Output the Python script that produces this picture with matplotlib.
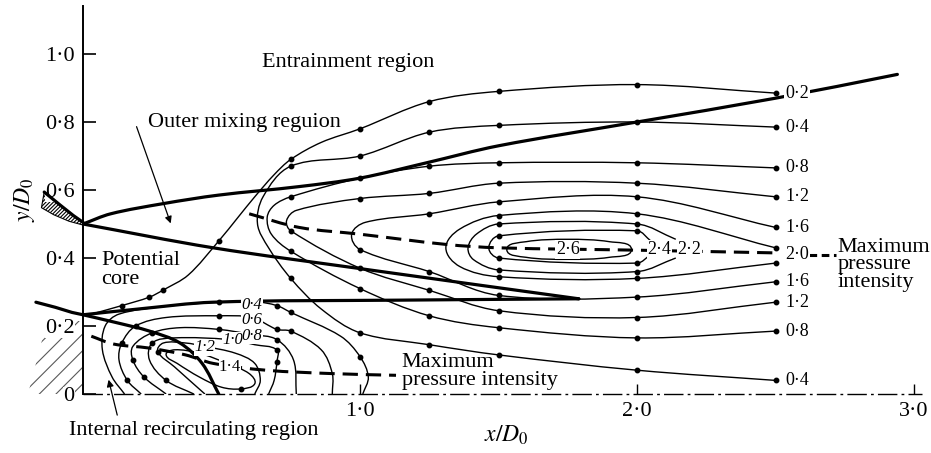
import matplotlib.pyplot as plt
import numpy as np
from matplotlib.path import Path
from matplotlib.patches import PathPatch, Polygon

plt.rcParams['font.family'] = 'Liberation Serif'
plt.rcParams['mathtext.fontset'] = 'stix'
plt.rcParams['hatch.linewidth'] = 0.8

# pressure-intensity contours: (x/D0, y/D0, measured point?)
# shear-layer family, drawn from the lower branch round the nose to the upper branch
U02 = [(0.03, 0.235, 0), (0.14, 0.26, 1), (0.24, 0.285, 1), (0.29, 0.306, 1), (0.38, 0.35, 0),
       (0.49, 0.45, 1), (0.56, 0.52, 0), (0.62, 0.58, 0), (0.69, 0.645, 0), (0.75, 0.69, 1),
       (0.86, 0.74, 0), (1.0, 0.78, 1), (1.25, 0.86, 1), (1.5, 0.89, 1), (2.0, 0.91, 1), (2.5, 0.885, 1)]
U04 = [(2.5, 0.04, 1), (2.0, 0.07, 1), (1.5, 0.115, 1), (1.25, 0.145, 1), (1.0, 0.18, 1),
       (0.86, 0.25, 0), (0.75, 0.34, 1), (0.67, 0.43, 0), (0.63, 0.5, 0), (0.65, 0.58, 0),
       (0.75, 0.67, 1), (1.0, 0.70, 1), (1.25, 0.77, 1), (1.5, 0.79, 1),
       (2.0, 0.80, 1), (2.5, 0.785, 1)]
U08 = [(2.5, 0.185, 1), (2.0, 0.165, 1), (1.5, 0.195, 1), (1.25, 0.23, 1), (1.0, 0.31, 1),
       (0.75, 0.42, 1), (0.68, 0.47, 0), (0.665, 0.52, 0), (0.69, 0.555, 0),
       (0.75, 0.58, 1), (1.0, 0.635, 1), (1.25, 0.67, 1), (1.5, 0.68, 1),
       (2.0, 0.68, 1), (2.5, 0.665, 1)]
U12 = [(2.5, 0.27, 1), (2.0, 0.225, 1), (1.5, 0.245, 1), (1.25, 0.305, 1), (1.0, 0.37, 1),
       (0.75, 0.48, 1), (0.735, 0.51, 0), (0.77, 0.54, 0),
       (1.0, 0.575, 1), (1.25, 0.59, 1), (1.5, 0.62, 1), (2.0, 0.62, 1), (2.5, 0.58, 1)]
U16 = [(2.5, 0.33, 1), (2.0, 0.285, 1), (1.5, 0.29, 1), (1.25, 0.36, 1), (1.0, 0.425, 1),
       (0.97, 0.47, 0), (1.02, 0.505, 0), (1.25, 0.53, 1), (1.5, 0.565, 1),
       (2.0, 0.58, 1), (2.5, 0.49, 1)]
U20 = [(2.5, 0.385, 1), (2.0, 0.34, 1), (1.5, 0.345, 1), (1.36, 0.375, 0), (1.31, 0.43, 0),
       (1.36, 0.485, 0), (1.5, 0.525, 1), (2.0, 0.53, 1), (2.5, 0.43, 1)]
U22 = [(2.14, 0.40, 0), (2.0, 0.36, 1), (1.5, 0.365, 1), (1.41, 0.395, 0), (1.39, 0.43, 0),
       (1.42, 0.47, 0), (1.5, 0.50, 1), (2.0, 0.50, 1), (2.14, 0.455, 0)]
U24 = [(2.05, 0.41, 0), (2.0, 0.385, 1), (1.5, 0.40, 1), (1.465, 0.43, 0), (1.5, 0.465, 1),
       (2.0, 0.48, 1), (2.05, 0.45, 0)]
U26 = [(1.53, 0.425, 0), (1.6, 0.448, 0), (1.75, 0.455, 0), (1.9, 0.448, 0), (1.98, 0.425, 0),
       (1.9, 0.402, 0), (1.75, 0.396, 0), (1.6, 0.402, 0), (1.53, 0.425, 0)]

# recirculation-zone family, from the centreline round the nose back to the centreline
L04 = [(0.15, 0.0, 0), (0.105, 0.05, 0), (0.07, 0.13, 0), (0.08, 0.2, 0), (0.13, 0.235, 0),
       (0.3, 0.258, 0), (0.49, 0.27, 1), (0.62, 0.272, 0), (0.70, 0.26, 1), (0.75, 0.24, 1),
       (0.93, 0.17, 0), (1.0, 0.11, 1), (1.03, 0.05, 0), (1.01, 0.0, 0)]
L06 = [(0.21, 0.0, 0), (0.16, 0.04, 1), (0.13, 0.1, 0), (0.14, 0.15, 1), (0.19, 0.2, 1),
       (0.3, 0.225, 0), (0.49, 0.23, 1), (0.61, 0.225, 0), (0.70, 0.19, 1), (0.75, 0.185, 1),
       (0.86, 0.13, 0), (0.9, 0.06, 0), (0.9, 0.0, 0)]
L08 = [(0.3, 0.0, 0), (0.22, 0.05, 1), (0.18, 0.1, 1), (0.18, 0.14, 0), (0.25, 0.18, 1),
       (0.35, 0.195, 0), (0.49, 0.19, 1), (0.61, 0.175, 0), (0.70, 0.16, 1), (0.76, 0.1, 0),
       (0.77, 0.0, 0)]
L10 = [(0.4, 0.0, 0), (0.3, 0.04, 1), (0.24, 0.1, 0), (0.25, 0.15, 1), (0.33, 0.165, 0),
       (0.53, 0.16, 0), (0.62, 0.145, 0), (0.70, 0.13, 1), (0.70, 0.095, 1),
       (0.69, 0.04, 0), (0.67, 0.0, 0)]
L12 = [(0.44, 0.0, 0), (0.33, 0.08, 0), (0.27, 0.125, 1), (0.29, 0.15, 0), (0.37, 0.15, 0),
       (0.44, 0.14, 0), (0.55, 0.12, 0), (0.62, 0.09, 0), (0.64, 0.04, 0), (0.62, 0.0, 0)]
L14 = [(0.30, 0.115, 0), (0.33, 0.13, 0), (0.42, 0.12, 0), (0.52, 0.09, 0), (0.60, 0.06, 0),
       (0.62, 0.03, 0), (0.57, 0.015, 1), (0.50, 0.02, 0), (0.42, 0.05, 0), (0.34, 0.09, 0),
       (0.30, 0.115, 0)]

# mixing-layer boundaries (heavy lines)
outer_edge = [(0.0, 0.5), (0.1, 0.53), (0.29, 0.56), (0.49, 0.585), (0.78, 0.61), (1.0, 0.635),
              (1.24, 0.68), (1.5, 0.73), (2.0, 0.80), (2.5, 0.87), (2.94, 0.94)]
core_top = [(0.0, 0.5), (0.47, 0.43), (0.99, 0.37), (1.79, 0.28)]
core_bottom = [(0.0, 0.233), (0.2, 0.25), (0.47, 0.27), (1.14, 0.276), (1.79, 0.28)]
recirc_edge = [(0.0, 0.233), (0.12, 0.21), (0.24, 0.185), (0.35, 0.15), (0.43, 0.09), (0.49, 0.0)]

# loci of maximum pressure intensity (heavy dashed)
max_upper = [(0.6, 0.53), (0.78, 0.49), (1.0, 0.47), (1.31, 0.44), (1.5, 0.43), (2.0, 0.423), (2.5, 0.415)]
max_lower = [(0.03, 0.17), (0.11, 0.147), (0.24, 0.135), (0.37, 0.115), (0.47, 0.09),
             (0.66, 0.07), (0.9, 0.06), (1.13, 0.055)]

# nozzle lip outline (outer edge, then inner edge back)
lip_outer = [(-0.14, 0.594), (-0.083, 0.556), (-0.035, 0.525), (0.0, 0.505)]
lip_inner = [(0.0, 0.497), (-0.05, 0.508), (-0.105, 0.527), (-0.15, 0.548)]
wall_top = [(-0.17, 0.27), (-0.1, 0.255), (-0.04, 0.24), (0.0, 0.233)]

# contour labels
right_labels = ['0·2', '0·4', '0·8', '1·2', '1·6', '2·0', '1·6', '1·2', '0·8', '0·4']
right_label_y = [0.885, 0.785, 0.665, 0.58, 0.49, 0.41, 0.33, 0.27, 0.185, 0.04]
core_labels = ['2·6', '2·4', '2·2']
core_label_x = [1.75, 2.08, 2.19]
recirc_labels = ['0·4', '0·6', '0·8', '1·0', '1·2', '1·4']
recirc_label_xy = [(0.61, 0.262), (0.61, 0.218), (0.61, 0.172), (0.54, 0.158), (0.44, 0.137), (0.53, 0.078)]

y_ticks = [0.0, 0.2, 0.4, 0.6, 0.8, 1.0]
y_tick_labels = ['0', '0·2', '0·4', '0·6', '0·8', '1·0']
x_ticks = [1.0, 2.0, 3.0]
x_tick_labels = ['1·0', '2·0', '3·0']

ASPECT = 340 / 277  # screen units per y unit relative to x


def smooth_path(pts, closed=False):
    # smooth curve through the points as cubic Beziers; handles follow the chord
    # direction and are a third of the segment length, so the curve does not overshoot
    P = np.array([p[:2] for p in pts], dtype=float)
    S = P * [1.0, ASPECT]
    n = len(S)
    tang = np.zeros_like(S)
    for i in range(n):
        if closed:
            prev = S[i - 1] if i > 0 else S[-2]
            nxt = S[i + 1] if i < n - 1 else S[1]
        else:
            prev = S[max(i - 1, 0)]
            nxt = S[min(i + 1, n - 1)]
        d = nxt - prev
        tang[i] = d / max(np.hypot(*d), 1e-9)
    verts = [S[0]]
    codes = [Path.MOVETO]
    for i in range(n - 1):
        h = np.hypot(*(S[i + 1] - S[i])) / 3
        verts += [S[i] + tang[i] * h, S[i + 1] - tang[i + 1] * h, S[i + 1]]
        codes += [Path.CURVE4] * 3
    verts = np.array(verts) / [1.0, ASPECT]
    return Path(verts, codes)


def draw_curve(ax, pts, closed=False, **kw):
    ax.add_patch(PathPatch(smooth_path(pts, closed), fill=False, color='k', **kw))


fig = plt.figure(figsize=(9.31, 4.53), dpi=100)
ax = fig.add_axes([83 / 931, 59 / 453, 277 * 3.06 / 931, 340 * 1.14 / 453])
ax.set_xlim(0, 3.06)
ax.set_ylim(0, 1.14)
for s in ['top', 'right', 'bottom']:
    ax.spines[s].set_visible(False)
ax.spines['left'].set_linewidth(1.4)

# contours
for c in [U02, U04, U08, U12, U16, U20, U22, U24, L04, L06, L08, L10, L12]:
    draw_curve(ax, c, lw=1.0)
for c in [U26, L14]:
    draw_curve(ax, c, closed=True, lw=1.0)
for c in [U02, U04, U08, U12, U16, U20, U22, U24, L04, L06, L08, L10, L12, L14]:
    dots = [p for p in c if p[2]]
    ax.plot([p[0] for p in dots], [p[1] for p in dots], 'o', color='k', ms=3.2, zorder=4)

# boundaries and maxima
for c in [outer_edge, core_top, core_bottom, recirc_edge]:
    draw_curve(ax, c, lw=2.3, capstyle='round')
for c in [max_upper, max_lower]:
    draw_curve(ax, c, lw=2.2, ls=(0, (5, 2.6)))
ax.plot([2.62, 2.72], [0.41, 0.41], color='k', lw=2.2, ls=(0, (2.5, 1.5)))

# centreline
ax.plot([0, 3.03], [0, 0], color='k', lw=1.0, ls=(0, (14, 3, 2, 3)), clip_on=False)

# nozzle walls
lip = Polygon(lip_outer + lip_inner, closed=True, fill=False, hatch='/' * 9, lw=0.8,
              clip_on=False)
ax.add_patch(lip)
ax.plot([p[0] for p in lip_outer], [p[1] for p in lip_outer], color='k', lw=2.3,
        clip_on=False, solid_capstyle='round')
ax.plot([p[0] for p in wall_top], [p[1] for p in wall_top], color='k', lw=2.3,
        clip_on=False, solid_capstyle='round')
body = Polygon([(-0.2, 0.0), (0.0, 0.0), (0.0, 0.215), (-0.13, 0.215)], closed=True,
               fill=False, hatch='//', lw=0, clip_on=False, edgecolor='0.35')
ax.add_patch(body)

# ticks
ax.set_yticks(y_ticks)
ax.set_yticklabels(y_tick_labels, fontsize=16)
ax.set_xticks(x_ticks)
ax.set_xticklabels(x_tick_labels, fontsize=16)
ax.tick_params(axis='y', direction='in', length=9, width=1.2, pad=6)
ax.tick_params(axis='x', direction='in', length=7, width=1.0, pad=6)
ax.set_xlabel('$x/D_0$', fontsize=17, labelpad=2)
ax.set_ylabel('$y/D_0$', fontsize=17, labelpad=6)
for lbl in ax.get_yticklabels():
    lbl.set_bbox(dict(fc='white', ec='none', pad=0.3))

# contour labels
box = dict(fc='white', ec='none', pad=0.5)
for t, y in zip(right_labels, right_label_y):
    ax.text(2.535, y, t, fontsize=13, va='center', ha='left', bbox=box, zorder=5)
for t, x in zip(core_labels, core_label_x):
    ax.text(x, 0.425, t, fontsize=13, va='center', ha='center', bbox=box, zorder=5)
for t, (x, y) in zip(recirc_labels, recirc_label_xy):
    ax.text(x, y, t, fontsize=12, va='center', ha='center',
            style='italic' if t != '1·4' else 'normal', bbox=dict(fc='white', ec='none', pad=0.1),
            zorder=5)

# region names
ax.text(0.646, 0.976, 'Entrainment region', fontsize=16, va='center')
ax.text(0.235, 0.80, 'Outer mixing reguion', fontsize=16, va='center')
ax.annotate('', xy=(0.32, 0.494), xytext=(0.19, 0.794),
            arrowprops=dict(arrowstyle='-|>', lw=0.9, color='k', mutation_scale=10))
ax.text(0.065, 0.365, 'Potential\ncore', fontsize=16, va='center', linespacing=0.95)
ax.text(-0.05, -0.106, 'Internal recirculating region', fontsize=16, va='center')
ax.annotate('', xy=(0.09, 0.05), xytext=(0.126, -0.07),
            arrowprops=dict(arrowstyle='-|>', lw=0.9, color='k', mutation_scale=10),
            annotation_clip=False)
ax.text(1.15, 0.066, 'Maximum\npressure intensity', fontsize=16, va='center', linespacing=0.9)
ax.text(2.725, 0.38, 'Maximum\npressure\nintensity', fontsize=16, va='center', linespacing=0.9)

fig.savefig('out.png', dpi=100)
